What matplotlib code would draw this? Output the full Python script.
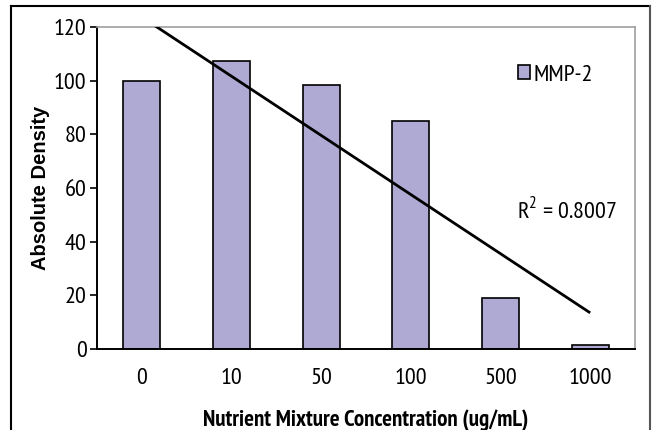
import numpy as np
import matplotlib
matplotlib.use('Agg')
from matplotlib import pyplot as plt
from matplotlib.lines import Line2D

# data
categories = ['0', '10', '50', '100', '500', '1000']
mmp2 = [100, 107.5, 98.5, 85, 19, 1.5]
r2_label = 'R$^2$ = 0.8007'

narrow = ['PT Sans Narrow', 'DejaVu Sans']
plt.rcParams['font.family'] = narrow
plt.rcParams['mathtext.fontset'] = 'custom'
plt.rcParams['mathtext.rm'] = 'PT Sans Narrow'

fig = plt.figure(figsize=(6.52, 4.30), dpi=100)
W, H = 652, 430
ax = fig.add_axes([97 / W, 1 - 349 / H, (635 - 97) / W, (349 - 27) / H])

x = np.arange(len(categories))
ax.bar(x, mmp2, width=0.41, color='#aeaad4', edgecolor='black', linewidth=1.2,
       label='MMP-2', zorder=2)

# linear trendline over category index
slope, intercept = np.polyfit(x, mmp2, 1)
ax.plot(x[[0, -1]], intercept + slope * x[[0, -1]], color='black', lw=2, zorder=3,
        solid_capstyle='butt')

ax.set_xlim(-0.5, len(categories) - 0.5)
ax.set_ylim(0, 120)
ax.set_yticks(range(0, 121, 20))
ax.set_xticks(x)
ax.set_xticklabels(categories)
ax.tick_params(axis='x', length=0, pad=13.5, labelsize=17.5)
ax.tick_params(axis='y', length=5, width=1.2, direction='out', pad=2.5, labelsize=17.5)

for s in ['top', 'right']:
    ax.spines[s].set_color('#a0a0a0')
    ax.spines[s].set_linewidth(1.2)
for s in ['left', 'bottom']:
    ax.spines[s].set_color('black')
    ax.spines[s].set_linewidth(1.4)

ax.set_xlabel('Nutrient Mixture Concentration (ug/mL)', fontsize=16.5, fontweight='bold',
              labelpad=15)
ax.set_ylabel('Absolute Density', fontsize=14.5, fontweight='bold', labelpad=3,
              family=['Liberation Sans', 'DejaVu Sans'])

ax.text(4.18, 51.4, r2_label, fontsize=17.5, va='center')

leg = ax.legend(loc='center left', bbox_to_anchor=(0.76, 0.85), frameon=False,
                fontsize=17.5, handlelength=0.5, handleheight=0.5, handletextpad=0.15,
                borderpad=0)

# outer chart border (open at the bottom)
fig.add_artist(Line2D([11 / W, 11 / W], [0, 1 - 6 / H], color='black', lw=1.5,
                      transform=fig.transFigure))
fig.add_artist(Line2D([11 / W, 650 / W], [1 - 6 / H, 1 - 6 / H], color='black', lw=1.5,
                      transform=fig.transFigure))
fig.add_artist(Line2D([650 / W, 650 / W], [0, 1 - 6 / H], color='#555555', lw=1.5,
                      transform=fig.transFigure))

fig.savefig('out.png', dpi=100)
